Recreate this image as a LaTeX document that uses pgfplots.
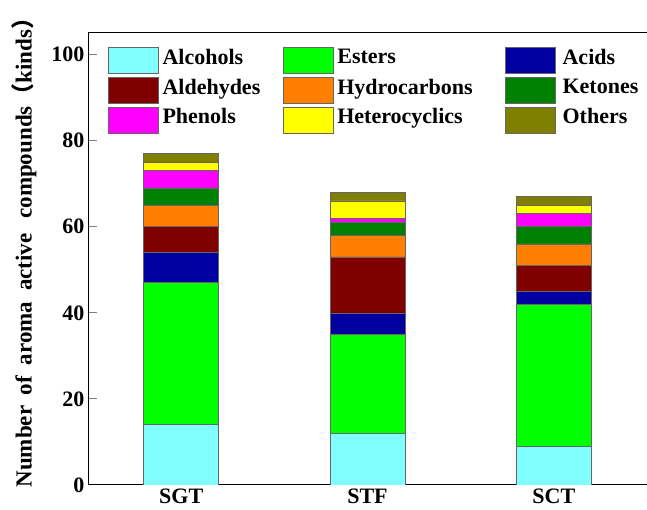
\documentclass[border=0pt]{standalone}
\usepackage{pgfplots}
\pgfplotsset{compat=1.18}
\usepackage{fontspec}
\setmainfont{Liberation Serif}[BoldFont={Liberation Serif Bold}]
\newfontfamily\cjk{Noto Sans CJK SC}
\definecolor{cAlc}{RGB}{128,255,255}
\definecolor{cEst}{RGB}{0,255,0}
\definecolor{cAcid}{RGB}{0,0,160}
\definecolor{cAld}{RGB}{128,0,0}
\definecolor{cHyd}{RGB}{255,128,0}
\definecolor{cKet}{RGB}{0,128,0}
\definecolor{cPhe}{RGB}{255,0,255}
\definecolor{cHet}{RGB}{255,255,0}
\definecolor{cOth}{RGB}{128,128,0}
\newcommand{\bigf}{\bfseries\fontsize{22}{26}\selectfont}
\newcommand{\labf}{\bfseries\fontsize{23}{27}\selectfont}
\begin{document}
\begin{tikzpicture}
\begin{axis}[
  at={(0,0)}, anchor=south west,
  scale only axis, width=559pt, height=452pt,
  ybar stacked, bar width=75pt,
  xmin=-0.5, xmax=2.5, ymin=0, ymax=105,
  xtick=data, xticklabels={SGT,STF,SCT},
  ytick={0,20,40,60,80,100},
  axis x line=box, axis y line=left,
  axis line style={line width=1pt, -},
  x tick style={draw=none},
  y tick style={line width=1pt},
  tick align=inside, major tick length=9pt,
  ytick pos=left,
  /pgf/number format/assume math mode=true,
  every tick label/.append style={font=\bigf},
  ylabel={Number\hspace{5pt} of\hspace{5pt} aroma\hspace{5pt} active\hspace{9pt} compounds{\cjk （}kinds{\cjk ）}},
  ylabel style={font=\labf, xshift=12pt, yshift=8pt},
  every axis plot/.append style={draw=black!60, line width=0.6pt},
  legend columns=3,
  legend cell align=left,
  legend style={draw=none, fill=none, at={(rel axis cs:0.031,0.982)}, anchor=north west,
    font=\bigf, row sep=5.5pt,
    /tikz/column 1/.style={column sep=2pt},
    /tikz/column 2/.style={column sep=21pt},
    /tikz/column 3/.style={column sep=2pt},
    /tikz/column 4/.style={column sep=31pt},
    /tikz/column 5/.style={column sep=5pt}},
  legend image code/.code={%
    \pgfpathrectangle{\pgfpoint{0pt}{0pt}}{\pgfpoint{50pt}{14pt}}\pgfusepath{use as bounding box}%
    \draw[#1] (0pt,-16pt) rectangle (50pt,10pt);},
]
\addplot[fill=cAlc] coordinates {(0,14) (1,12) (2,9)};
\addplot[fill=cEst] coordinates {(0,33) (1,23) (2,33)};
\addplot[fill=cAcid] coordinates {(0,7) (1,5) (2,3)};
\addplot[fill=cAld] coordinates {(0,6) (1,13) (2,6)};
\addplot[fill=cHyd] coordinates {(0,5) (1,5) (2,5)};
\addplot[fill=cKet] coordinates {(0,4) (1,3) (2,4)};
\addplot[fill=cPhe] coordinates {(0,4) (1,1) (2,3)};
\addplot[fill=cHet] coordinates {(0,2) (1,4) (2,2)};
\addplot[fill=cOth] coordinates {(0,2) (1,2) (2,2)};
\legend{Alcohols,Esters,Acids,Aldehydes,Hydrocarbons,Ketones,Phenols,Heterocyclics,Others}
\end{axis}
\pgfresetboundingbox
\path (-88pt,-25pt) rectangle (559pt,485pt);
\end{tikzpicture}
\end{document}
